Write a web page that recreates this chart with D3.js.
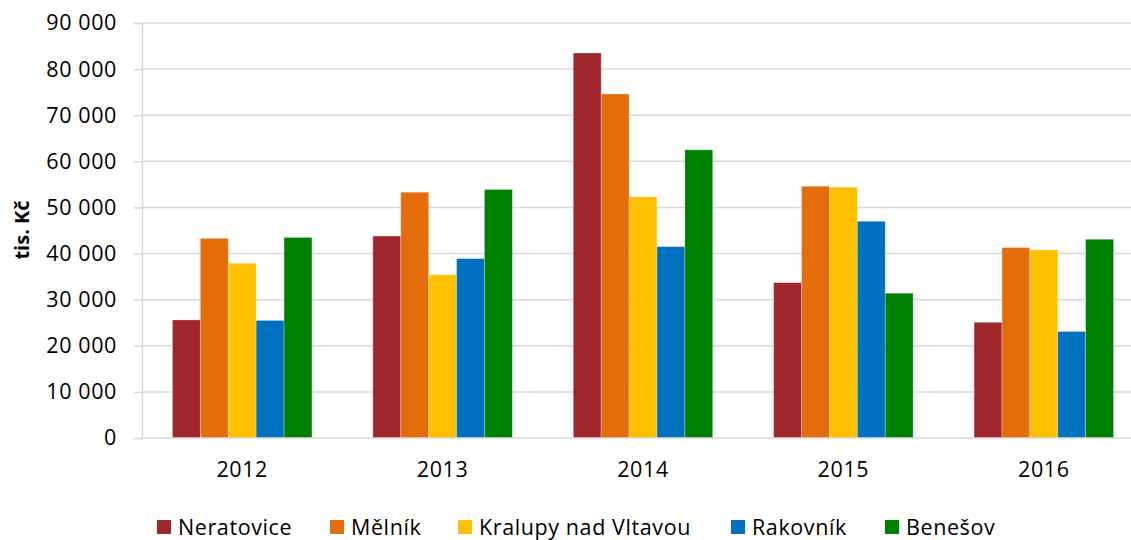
<!DOCTYPE html>
<html>
<head>
<meta charset="utf-8">
<script src="https://cdn.jsdelivr.net/npm/d3@7"></script>
<style>
  html, body { margin: 0; padding: 0; background: #fff; }
  svg { display: block; font-family: "Open Sans", "Noto Sans", sans-serif; }
</style>
</head>
<body>
<svg id="chart" width="1131" height="540"></svg>
<script>
// Years on the category axis
const years = ["2012", "2013", "2014", "2015", "2016"];

// Towns (series) and their colours
const towns = ["Neratovice", "Mělník", "Kralupy nad Vltavou", "Rakovník", "Benešov"];
const colors = ["#A0282C", "#E46C0A", "#FFC000", "#0070C0", "#008000"];

// Values in thousands of CZK, one array per town, in year order
const neratovice = [25600, 43800, 83500, 33700, 25100];
const melnik     = [43300, 53300, 74600, 54600, 41300];
const kralupy    = [37900, 35400, 52300, 54400, 40800];
const rakovnik   = [25500, 38900, 41500, 47000, 23100];
const benesov    = [43500, 53900, 62500, 31400, 43100];
const seriesValues = [neratovice, melnik, kralupy, rakovnik, benesov];

// Y axis ticks
const yTicks = [0, 10000, 20000, 30000, 40000, 50000, 60000, 70000, 80000, 90000];
const yTitle = "tis. Kč";

const svg = d3.select("#chart");
const plotLeft = 142, plotRight = 1144, plotTop = 23, plotBottom = 438;

const x0 = d3.scaleBand().domain(years).range([plotLeft, plotRight])
  .paddingInner(0.304).paddingOuter(0.152);
const x1 = d3.scaleBand().domain(towns).range([0, x0.bandwidth()]);
const y = d3.scaleLinear().domain([0, 90000]).range([plotBottom, plotTop]);

const fmt = v => d3.format(",")(v).replace(/,/g, " ");
const gridColor = "#d9d9d9";
const labelSize = "21.5px";
const labelSpacing = "0.6px";

// Horizontal gridlines
svg.append("g")
  .selectAll("line")
  .data(yTicks.filter(d => d > 0))
  .join("line")
  .attr("x1", plotLeft).attr("x2", 1131)
  .attr("y1", d => y(d)).attr("y2", d => y(d))
  .attr("stroke", gridColor).attr("stroke-width", 1.5);

// Y axis with small outward ticks
const yAxis = svg.append("g")
  .attr("transform", `translate(${plotLeft},0)`)
  .call(d3.axisLeft(y).tickValues(yTicks).tickFormat(fmt).tickSize(8).tickPadding(17));
yAxis.select(".domain").attr("stroke", gridColor).attr("stroke-width", 1.5);
yAxis.selectAll(".tick line").attr("stroke", gridColor).attr("stroke-width", 1.5);
yAxis.selectAll(".tick text")
  .attr("fill", "#000").style("font-size", labelSize)
  .style("letter-spacing", labelSpacing)
  .style("font-family", "'Open Sans', sans-serif");

// Bars
const groups = svg.append("g")
  .selectAll("g")
  .data(years)
  .join("g")
  .attr("transform", d => `translate(${x0(d)},0)`);

groups.selectAll("rect")
  .data((yr, i) => towns.map((t, s) => ({ town: t, s, value: seriesValues[s][i] })))
  .join("rect")
  .attr("x", d => x1(d.town))
  .attr("width", x1.bandwidth())
  .attr("y", d => y(d.value))
  .attr("height", d => y(0) - y(d.value))
  .attr("fill", d => colors[d.s])
  .attr("stroke", "rgba(255,255,255,0.35)")
  .attr("stroke-width", 0.8);

// Baseline / category axis
const xAxis = svg.append("g")
  .attr("transform", `translate(0,${plotBottom})`)
  .call(d3.axisBottom(x0).tickSize(0).tickPadding(24));
xAxis.select(".domain").remove();
svg.append("line")
  .attr("x1", plotLeft).attr("x2", 1131)
  .attr("y1", y(0)).attr("y2", y(0))
  .attr("stroke", gridColor).attr("stroke-width", 1.5);
xAxis.selectAll(".tick text")
  .attr("fill", "#000").style("font-size", labelSize)
  .style("letter-spacing", labelSpacing)
  .style("font-family", "'Open Sans', sans-serif");

// Y axis title
svg.append("text")
  .attr("transform", "translate(29,230) rotate(-90)")
  .attr("text-anchor", "middle")
  .style("font-size", "20px").style("font-weight", "bold")
  .text(yTitle);

// Legend
const legendX = [157, 330, 458, 731, 885];
const legend = svg.append("g")
  .selectAll("g")
  .data(towns)
  .join("g")
  .attr("transform", (d, i) => `translate(${legendX[i]},527)`);
legend.append("rect")
  .attr("x", 0).attr("y", -7).attr("width", 14).attr("height", 14)
  .attr("fill", (d, i) => colors[i]);
legend.append("text")
  .attr("x", 21).attr("y", 0).attr("dy", "0.36em")
  .style("font-size", labelSize)
  .style("letter-spacing", labelSpacing)
  .text(d => d);
</script>
</body>
</html>
